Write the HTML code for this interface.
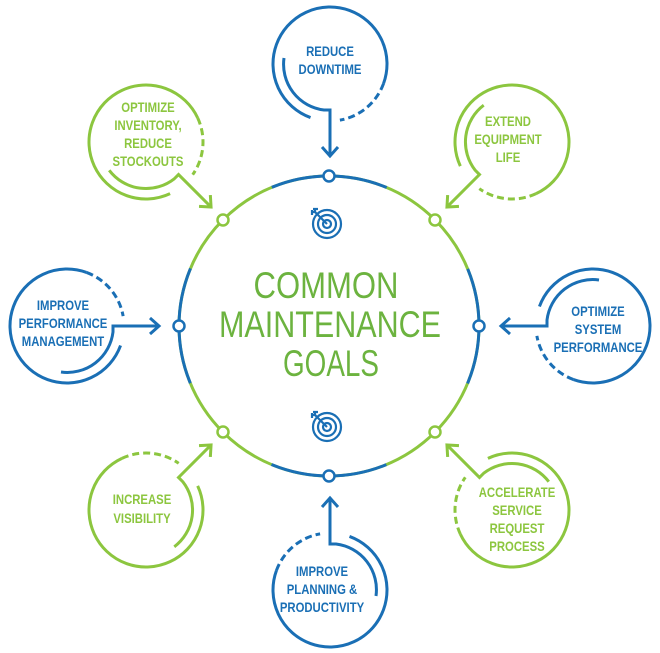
<!DOCTYPE html>
<html><head><meta charset="utf-8"><style>
html,body{margin:0;padding:0;background:#fff;}
svg{display:block;}
text{font-family:"Liberation Sans Narrow","Liberation Sans",sans-serif;text-anchor:middle;}
.s{font-weight:bold;}
.c{font-weight:normal;}
</style></head><body>
<svg width="660" height="653" viewBox="0 0 660 653" xmlns="http://www.w3.org/2000/svg">
<defs>
<g id="g" fill="none" stroke-width="3" stroke-linecap="butt">
<path d="M-19.5,53.56 A57,57 0 1 1 53.56,19.5"/>
<path d="M53.56,19.5 A57,57 0 0 1 9.9,56.13" stroke-dasharray="7 4"/>
<path d="M-46,-6 A46,46 0 0 0 -6,46 L0,46 L0,92"/>
<path d="M-8,83 L0,92 L8,83"/>
</g>
<g id="t" fill="none" stroke-width="2.2">
<circle r="14"/><circle r="9"/><circle r="4"/>
<path d="M0,0 L-12,-12"/><path d="M-12,-12 l-4,0 M-12,-12 l0,-4 M-9,-15 l-5,0 M-15,-9 l0,-5"/>
</g>
</defs>
<circle cx="329" cy="326" r="150" fill="none" stroke="#8cc63f" stroke-width="3"/>
<circle cx="329" cy="326" r="150" fill="none" stroke="#1a6fb5" stroke-width="3" stroke-dasharray="117.81 117.81" stroke-dashoffset="58.905"/>

<use href="#g" stroke="#1a6fb5" transform="translate(330,64)"/>
<use href="#g" stroke="#1a6fb5" transform="translate(330,590) rotate(180)"/>
<use href="#g" stroke="#1a6fb5" transform="translate(67,326) rotate(-90)"/>
<use href="#g" stroke="#1a6fb5" transform="translate(593,326) rotate(90)"/>
<use href="#g" stroke="#8cc63f" transform="translate(146,142) rotate(-45)"/>
<use href="#g" stroke="#8cc63f" transform="translate(512,142) rotate(45)"/>
<use href="#g" stroke="#8cc63f" transform="translate(146,510) rotate(-135)"/>
<use href="#g" stroke="#8cc63f" transform="translate(512,510) rotate(135)"/>

<g fill="#fff" stroke-width="2.5">
<circle cx="329" cy="176" r="5.5" stroke="#1a6fb5"/>
<circle cx="329" cy="476" r="5.5" stroke="#1a6fb5"/>
<circle cx="179" cy="326" r="5.5" stroke="#1a6fb5"/>
<circle cx="479" cy="326" r="5.5" stroke="#1a6fb5"/>
<circle cx="223" cy="220" r="5.5" stroke="#8cc63f"/>
<circle cx="435" cy="220" r="5.5" stroke="#8cc63f"/>
<circle cx="223" cy="432" r="5.5" stroke="#8cc63f"/>
<circle cx="435" cy="432" r="5.5" stroke="#8cc63f"/>
</g>
<use href="#t" stroke="#1a6fb5" transform="translate(327,224)"/>
<use href="#t" stroke="#1a6fb5" transform="translate(327,427)"/>

<g fill="#6cb33f">
<text class="c" x="326" y="298" font-size="37" textLength="145" lengthAdjust="spacingAndGlyphs">COMMON</text>
<text class="c" x="330" y="337" font-size="37" textLength="222" lengthAdjust="spacingAndGlyphs">MAINTENANCE</text>
<text class="c" x="331" y="376" font-size="37" textLength="96" lengthAdjust="spacingAndGlyphs">GOALS</text>
</g>

<g fill="#1a6fb5" font-size="13.5">
<g transform="translate(330,0) scale(0.84,1)"><text class="s" x="0" y="56">REDUCE</text><text class="s" x="0" y="74">DOWNTIME</text></g>
<g transform="translate(63,0) scale(0.84,1)"><text class="s" x="0" y="310">IMPROVE</text><text class="s" x="0" y="328">PERFORMANCE</text><text class="s" x="0" y="346">MANAGEMENT</text></g>
<g transform="translate(598,0) scale(0.84,1)"><text class="s" x="0" y="316">OPTIMIZE</text><text class="s" x="0" y="334">SYSTEM</text><text class="s" x="0" y="352">PERFORMANCE</text></g>
<g transform="translate(322,0) scale(0.84,1)"><text class="s" x="0" y="576">IMPROVE</text><text class="s" x="0" y="594">PLANNING &amp;</text><text class="s" x="0" y="612">PRODUCTIVITY</text></g>
</g>
<g fill="#8cc63f" font-size="13.5">
<g transform="translate(148,0) scale(0.84,1)"><text class="s" x="0" y="112">OPTIMIZE</text><text class="s" x="0" y="130">INVENTORY,</text><text class="s" x="0" y="148">REDUCE</text><text class="s" x="0" y="166">STOCKOUTS</text></g>
<g transform="translate(508,0) scale(0.84,1)"><text class="s" x="0" y="126">EXTEND</text><text class="s" x="0" y="144">EQUIPMENT</text><text class="s" x="0" y="162">LIFE</text></g>
<g transform="translate(142,0) scale(0.84,1)"><text class="s" x="0" y="504">INCREASE</text><text class="s" x="0" y="523">VISIBILITY</text></g>
<g transform="translate(517,0) scale(0.84,1)"><text class="s" x="0" y="497">ACCELERATE</text><text class="s" x="0" y="515">SERVICE</text><text class="s" x="0" y="533">REQUEST</text><text class="s" x="0" y="551">PROCESS</text></g>
</g>
</svg>
</body></html>
